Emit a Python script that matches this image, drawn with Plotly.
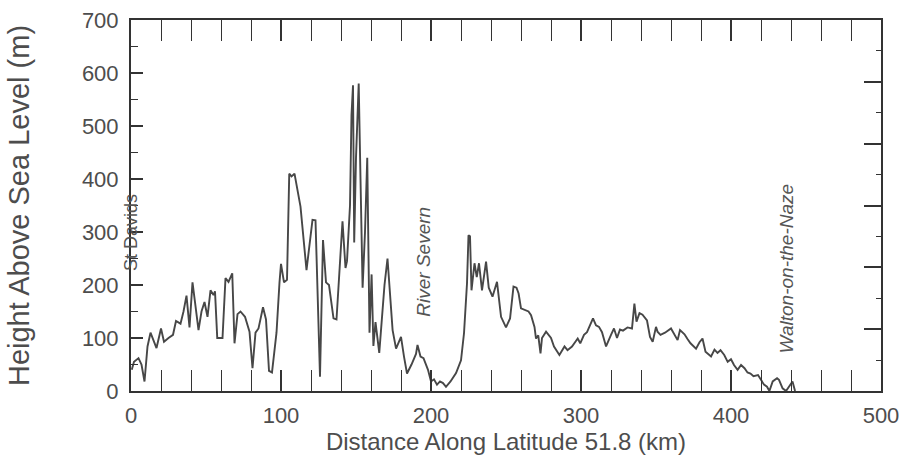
import plotly.graph_objects as go

# Elevation profile along latitude 51.8
distance_km = [
    0.5, 2, 5, 7, 9, 11, 13, 15, 17, 20, 22, 25, 28, 30, 33, 35, 37, 39, 41, 43,
    45, 47, 49, 51, 53, 55, 56, 57.5, 61, 63, 65, 67.5, 69, 71, 73, 76, 79, 81, 83, 85,
    88, 90, 92, 94, 97, 99, 100, 102, 104, 105.5, 107, 109, 113, 117, 121, 123, 126, 128, 130, 132,
    135, 137, 141, 143, 144, 146, 147, 148, 148.8, 150, 151.8, 153, 154.4, 156, 157.5, 159, 160.4, 161.6, 163, 165.5,
    167, 169, 171, 172, 174.4, 176.7, 178, 180, 182, 184, 187, 190, 191, 193, 195, 198, 200, 202, 204, 206,
    208, 210, 213, 216.7, 220, 222, 224, 225, 226, 227, 229, 230.5, 232, 234, 236.7, 238.5, 241, 244, 246.7, 250,
    252.7, 255, 257, 258.4, 260, 265, 266.7, 269, 270, 271.5, 273, 274, 276.7, 280, 282, 285.6, 289, 291, 294, 297.8,
    299.5, 302, 304, 308, 310, 312, 314, 316.7, 320, 322, 324, 326, 328, 331, 334, 335.6, 337, 339, 341, 344,
    346, 347.8, 350, 351, 353, 356, 360, 362, 364.4, 366, 369, 371, 373, 376.7, 379, 381, 383, 386.7, 389, 391,
    393, 395.5, 397.8, 400, 402, 404.4, 406.7, 409, 411, 413, 415, 418, 420, 422, 424, 425.6, 427.8, 430.7, 432, 434.4,
    436.7, 439, 441, 442.7,
]
height_m = [
    40, 55, 62, 50, 18, 84, 110, 95, 81, 118, 93, 100, 106, 132, 127, 150, 180, 120, 205, 160,
    115, 150, 168, 140, 190, 181, 188, 100, 100, 213, 206, 222, 90, 145, 150, 140, 112, 43, 110, 118,
    158, 135, 38, 35, 110, 205, 240, 205, 210, 410, 405, 410, 348, 228, 323, 322, 27, 285, 205, 200,
    137, 135, 320, 232, 245, 350, 520, 577, 280, 440, 580, 400, 195, 300, 440, 110, 220, 85, 130, 72,
    130, 200, 250, 210, 115, 80, 90, 102, 65, 33, 50, 70, 87, 65, 62, 40, 18, 22, 12, 18,
    15, 8, 18, 34, 58, 109, 203, 294, 292, 190, 241, 215, 241, 190, 244, 195, 178, 206, 140, 120,
    137, 197, 195, 184, 156, 150, 143, 121, 99, 105, 71, 100, 112, 100, 84, 68, 84, 77, 84, 99,
    90, 106, 111, 137, 124, 121, 111, 84, 106, 118, 100, 116, 114, 120, 118, 165, 131, 147, 144, 133,
    102, 93, 121, 112, 106, 110, 118, 109, 96, 115, 107, 98, 90, 80, 92, 99, 74, 65, 78, 72,
    77, 68, 55, 60, 49, 40, 49, 43, 35, 33, 28, 30, 21, 12, 8, 0, 18, 24, 21, 5,
    0, 11, 18, 0,
]

x_ticks = [0, 100, 200, 300, 400, 500]
y_ticks = [0, 100, 200, 300, 400, 500, 600, 700]

place_names = ["St Davids", "River Severn", "Walton-on-the-Naze"]
place_x = [0, 195, 437]
place_y = [298, 243, 230]

GRAY = "#4d4d4d"
FRAME = "#333333"

fig = go.Figure()
fig.add_trace(go.Scatter(
    x=distance_km, y=height_m, mode="lines",
    line=dict(color="#474747", width=1.9),
    showlegend=False, hoverinfo="skip",
))
# empty trace so the right-hand tick scale is drawn
fig.add_trace(go.Scatter(x=[], y=[], yaxis="y2", showlegend=False))

for name, px, py in zip(place_names, place_x, place_y):
    italic = name != "St Davids"
    fig.add_annotation(
        x=px, y=py, text=f"<i>{name}</i>" if italic else name,
        textangle=-90, showarrow=False,
        font=dict(family="Liberation Sans, Arial, sans-serif",
                  size=18 if not italic else 19, color="#555555"),
        xanchor="center", yanchor="middle",
    )

fig.update_layout(
    width=902, height=469,
    margin=dict(l=131, r=21, t=20, b=78, autoexpand=False),
    paper_bgcolor="white", plot_bgcolor="white",
    font=dict(family="Liberation Sans, Arial, sans-serif", color=GRAY),
    xaxis=dict(
        range=[0, 500], tickvals=x_ticks, ticktext=[str(v) for v in x_ticks],
        ticks="inside", ticklen=21, tickwidth=1.6, tickcolor=FRAME,
        minor=dict(dtick=20, tick0=0, ticks="inside", ticklen=11, tickwidth=1.4, tickcolor=FRAME),
        showline=True, linecolor=FRAME, linewidth=2, mirror="allticks",
        showgrid=False, zeroline=False, automargin=False,
        tickfont=dict(size=22, color=GRAY),
        ticklabelstandoff=4,
        title=dict(text="Distance Along Latitude 51.8 (km)",
                   font=dict(size=24, color=GRAY), standoff=2),
    ),
    yaxis=dict(
        range=[0, 700], tickvals=y_ticks, ticktext=[str(v) for v in y_ticks],
        ticks="inside", ticklen=12, tickwidth=1.6, tickcolor=FRAME,
        minor=dict(dtick=50, tick0=0, ticks="inside", ticklen=7, tickwidth=1.4, tickcolor=FRAME),
        showline=True, linecolor=FRAME, linewidth=2, mirror=True,
        showgrid=False, zeroline=False, automargin=False,
        tickfont=dict(size=22, color=GRAY),
        ticklabelstandoff=6,
        title=dict(text="Height Above Sea Level (m)",
                   font=dict(size=29, color=GRAY), standoff=44),
    ),
    yaxis2=dict(
        overlaying="y", side="right", range=[0, 12],
        tickvals=[0, 2, 4, 6, 8, 10, 12], showticklabels=False,
        ticks="inside", ticklen=17, tickwidth=1.6, tickcolor=FRAME,
        minor=dict(dtick=1, tick0=0, ticks="inside", ticklen=5, tickwidth=1.4, tickcolor=FRAME),
        showline=False, showgrid=False, zeroline=False, automargin=False,
    ),
)

fig.write_html("out.html")
